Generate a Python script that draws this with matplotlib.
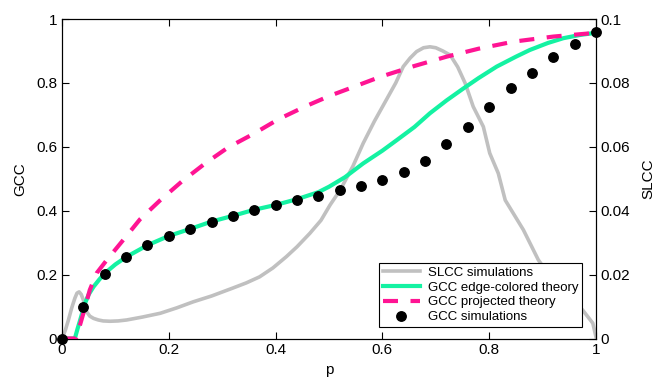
import numpy as np
import matplotlib
matplotlib.use("Agg")
import matplotlib.pyplot as plt

plt.rcParams['font.family'] = ['Liberation Sans', 'DejaVu Sans']

# GCC simulations (puntos)
p_sim = [0.0, 0.04, 0.08, 0.12, 0.16, 0.20, 0.24, 0.28, 0.32, 0.36, 0.40, 0.44, 0.48,
         0.52, 0.56, 0.60, 0.64, 0.68, 0.72, 0.76, 0.80, 0.84, 0.88, 0.92, 0.96, 1.0]
gcc_sim = [0.0, 0.098, 0.201, 0.254, 0.292, 0.321, 0.343, 0.366, 0.384, 0.403, 0.418, 0.433, 0.447,
           0.464, 0.478, 0.496, 0.522, 0.556, 0.608, 0.661, 0.724, 0.783, 0.832, 0.880, 0.922, 0.958]

# GCC edge-colored theory
p_edge = [0.0, 0.024, 0.029, 0.034, 0.043, 0.05, 0.059, 0.07, 0.08, 0.10, 0.12, 0.16, 0.20, 0.24,
          0.28, 0.32, 0.36, 0.40, 0.44, 0.48, 0.50, 0.53, 0.564, 0.60, 0.627, 0.66, 0.689, 0.72,
          0.752, 0.78, 0.814, 0.85, 0.876, 0.91, 0.939, 0.97, 1.0]
gcc_edge = [0.0, 0.0, 0.03, 0.058, 0.11, 0.138, 0.162, 0.185, 0.204, 0.232, 0.255, 0.292, 0.321, 0.343,
            0.366, 0.384, 0.403, 0.418, 0.436, 0.458, 0.475, 0.505, 0.548, 0.588, 0.621, 0.662, 0.705,
            0.745, 0.783, 0.815, 0.851, 0.882, 0.903, 0.925, 0.940, 0.950, 0.957]

# GCC projected theory
p_proj = [0.0, 0.026, 0.031, 0.04, 0.052, 0.065, 0.084, 0.112, 0.146, 0.184, 0.224, 0.268,
          0.311, 0.358, 0.405, 0.455, 0.502, 0.55, 0.596, 0.66, 0.72, 0.78, 0.845, 0.92, 0.988, 1.0]
gcc_proj = [0.0, 0.0, 0.027, 0.079, 0.152, 0.205, 0.246, 0.303, 0.373, 0.433, 0.491, 0.548,
            0.598, 0.640, 0.686, 0.726, 0.760, 0.790, 0.819, 0.853, 0.882, 0.907, 0.929, 0.945, 0.955, 0.957]

# SLCC simulations (eje derecho)
p_slcc = [0.0, 0.006, 0.012, 0.018, 0.024, 0.028, 0.032, 0.036, 0.04, 0.046, 0.052, 0.059, 0.068,
          0.077, 0.09, 0.105, 0.121, 0.15, 0.184, 0.215, 0.246, 0.28, 0.32, 0.345, 0.37, 0.395,
          0.42, 0.44, 0.464, 0.485, 0.502, 0.521, 0.545, 0.564, 0.585, 0.607, 0.625, 0.639, 0.652,
          0.664, 0.677, 0.689, 0.70, 0.713, 0.727, 0.741, 0.755, 0.770, 0.789, 0.801, 0.817, 0.830,
          0.845, 0.864, 0.892, 0.92, 0.95, 0.975, 0.994, 1.0]
slcc = [0.0, 0.0025, 0.0058, 0.0095, 0.0126, 0.0142, 0.0146, 0.0138, 0.012, 0.0084, 0.0070, 0.0063, 0.0058,
        0.0055, 0.0054, 0.0055, 0.0058, 0.0067, 0.0079, 0.0096, 0.0115, 0.0133, 0.0158, 0.0174, 0.0193, 0.0221,
        0.0256, 0.0287, 0.0329, 0.0370, 0.0418, 0.0465, 0.054, 0.0611, 0.068, 0.0746, 0.080, 0.0851, 0.0878,
        0.0898, 0.0910, 0.0913, 0.0910, 0.0900, 0.0887, 0.0850, 0.0799, 0.0726, 0.0663, 0.058, 0.0517, 0.0433,
        0.0392, 0.034, 0.0246, 0.018, 0.013, 0.0089, 0.0048, 0.0005]

fig, ax = plt.subplots(figsize=(6.62, 3.77), dpi=100)
fig.subplots_adjust(left=0.0937, right=0.9003, bottom=0.1021, top=0.9496)
ax2 = ax.twinx()
ax.set_zorder(ax2.get_zorder() + 1)
ax.patch.set_visible(False)

l_slcc, = ax2.plot(p_slcc, slcc, color='#c0c0c0', lw=2.6, label='SLCC simulations')
l_edge, = ax.plot(p_edge, gcc_edge, color='#14f2a2', lw=3.0, label='GCC edge-colored theory', zorder=2)
l_proj, = ax.plot(p_proj, gcc_proj, color='#ff1493', lw=3.0, dashes=(3.6, 3.0),
                  label='GCC projected theory', zorder=3)
l_sim, = ax.plot(p_sim, gcc_sim, 'o', color='black', ms=6.8, label='GCC simulations', zorder=4,
                 clip_on=False)

ax.set_xlim(0, 1)
ax.set_ylim(0, 1)
ax2.set_ylim(0, 0.1)
ticks = [0, 0.2, 0.4, 0.6, 0.8, 1]
ax.set_xticks(ticks)
ax.set_xticklabels(['0', '0.2', '0.4', '0.6', '0.8', '1'])
ax.set_yticks(ticks)
ax.set_yticklabels(['0', '0.2', '0.4', '0.6', '0.8', '1'])
ax2.set_yticks([0, 0.02, 0.04, 0.06, 0.08, 0.1])
ax2.set_yticklabels(['0', '0.02', '0.04', '0.06', '0.08', '0.1'])

ax.tick_params(direction='in', length=5, labelsize=11, top=True, width=0.8)
ax2.tick_params(direction='in', length=5, labelsize=11, width=0.8)

ax.set_xlabel('p', fontsize=11, labelpad=4)
ax.set_ylabel('GCC', fontsize=11, labelpad=6)
ax2.set_ylabel('SLCC', fontsize=11, labelpad=8)

leg = ax.legend(handles=[l_slcc, l_edge, l_proj, l_sim], loc='lower right',
                bbox_to_anchor=(0.974, 0.035), fontsize=9.5, numpoints=1,
                fancybox=False, framealpha=1, edgecolor='black', borderpad=0.3,
                labelspacing=0.2, handlelength=2.8, handletextpad=0.6, borderaxespad=0)
leg.get_frame().set_linewidth(0.8)

plt.savefig('out.png', dpi=100)
